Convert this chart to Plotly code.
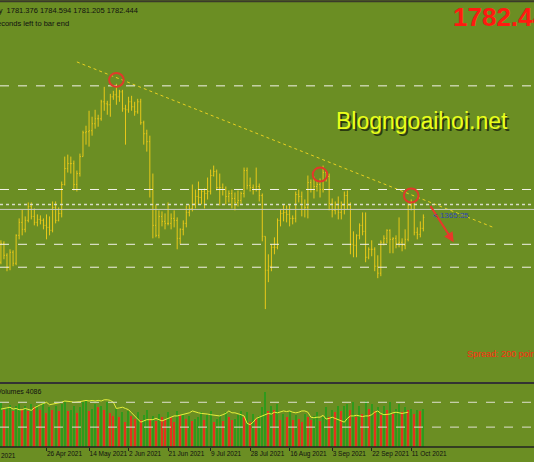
import plotly.graph_objects as go

# --- daily gold bars (8 Apr 2021 .. 20 Oct 2021), index = bar position ---
first_open = 1737
closes = [1756,1744, 1732,1747,1736,1764,1777, 1770,1779,1793,1783,1777,
          1780,1779,1774,1772,1769, 1792,1779,1786,1815,1831, 1836,1836,1815,1826,1843,
          1867,1868,1869,1876,1881, 1881,1898,1896,1895,1903, 1905,1903,1908,1891,1890,
          1898,1893,1888,1898,1877, 1866,1858,1810,1774,1764, 1783,1778,1776,1776,1781,
          1779,1761,1770,1776,1787, 1791,1796,1803,1802,1808, 1806,1808,1824,1828,1812,
          1812,1810,1803,1806,1801, 1797,1799,1806,1829,1814, 1812,1810,1813,1804,1763,
          1729,1733,1752,1752,1779, 1786,1787,1785,1781,1781, 1805,1803,1790,1792,1817,
          1810,1813,1815,1810,1827, 1823,1796,1789,1795,1787, 1794,1804,1794,1755,1754,
          1764,1774,1768,1742,1750, 1750,1733,1726,1757,1761, 1769,1760,1761,1756,1757,
          1754,1760,1794,1797,1767, 1765,1771,1782]
highs = [1759,1758, 1746,1750,1749,1765,1781, 1790,1783,1797,1797,1791,
         1785,1784,1781,1785,1783, 1798,1798,1792,1818,1843, 1845,1843,1839,1829,1846,
         1869,1874,1889,1883,1890, 1885,1900,1913,1899,1906, 1909,1916,1910,1910,1895,
         1903,1904,1898,1901,1901, 1879,1870,1864,1826,1795, 1789,1788,1786,1797,1786,
         1789,1782,1771,1779,1794, 1795,1815,1810,1818,1810, 1811,1822,1830,1834,1830,
         1826,1816,1813,1809,1810, 1807,1809,1808,1832,1832, 1822,1815,1832,1816,1806,
         1763,1745,1755,1762,1781, 1790,1795,1794,1795,1784, 1808,1810,1808,1800,1824,
         1820,1823,1819,1821,1834, 1829,1826,1801,1798,1803, 1798,1808,1809,1797,1768,
         1765,1776,1787,1787,1752, 1759,1752,1744,1759,1764, 1770,1770,1762,1764,1782,
         1761,1770,1796,1800,1798, 1772,1778,1785]
lows = [1735,1740, 1728,1729,1733,1734,1760, 1764,1767,1777,1780,1774,
        1773,1775,1770,1760,1764, 1767,1776,1778,1782,1814, 1827,1826,1809,1808,1823,
        1843,1855,1853,1864,1871, 1873,1879,1889,1885,1883, 1900,1895,1898,1888,1855,
        1887,1889,1884,1886,1875, 1855,1848,1802,1761,1762, 1761,1773,1770,1774,1770,
        1772,1750,1755,1764,1772, 1783,1788,1791,1795,1795, 1791,1800,1805,1823,1809,
        1794,1804,1795,1797,1791, 1789,1793,1795,1802,1810, 1808,1805,1808,1798,1758,
        1690,1717,1728,1745,1750, 1773,1778,1777,1773,1775, 1777,1797,1783,1782,1781,
        1807,1801,1808,1802,1807, 1818,1789,1782,1785,1780, 1780,1785,1790,1745,1742,
        1742,1760,1764,1737,1740, 1743,1728,1721,1723,1754, 1756,1746,1746,1751,1752,
        1748,1750,1758,1789,1764, 1760,1762,1768]
volumes = [72,60, 64,68,58,66,70, 62,66,58,70,64, 68,60,72,55,64, 60,66,58,70,72,
           58,60,66,55,64, 72,75,58,62,70, 64,66,60,72,55, 50,62,48,56,40, 58,50,46,56,44,
           52,60,46,50,42, 54,48,44,56,48, 40,58,52,54,46, 50,42,46,48,56, 44,52,58,40,46,
           50,42,56,48,44, 46,52,58,48,56, 40,54,46,50,64, 88,58,66,60,70, 44,54,48,56,44,
           52,46,40,54,48, 44,50,56,42,48, 64,48,60,56,66, 58,66,70,60,72, 48,66,54,74,62,
           70,58,64,52,66, 60,72,54,62,70, 56,64,60,62,54, 60,58,62]
vol_line = [61,62, 63,64,61,62,60, 60,62,61,59,63, 66,68,70,72,68, 69,70,70,72,74,
            74,73,72,72,73, 74,75,74,75,74, 75,74,76,76,75, 72,62,63,64,62, 60,55,50,46,40,
            42,44,44,44,46, 44,42,44,46,48, 50,50,51,52,54, 55,58,56,55,54, 54,53,52,51,51,
            50,52,54,58,55, 55,54,52,50,38, 36,40,46,48,50, 52,54,53,56,55, 57,58,57,58,56,
            55,56,58,58,56, 48,47,48,48,51, 45,46,48,46,44, 41,40,46,50,50, 51,50,49,50,50,
            52,56,58,54,52, 52,53,55,56,55, 54,55,56]

date_idx = [15, 29, 42, 55, 69, 82, 95, 109, 122, 135]
date_txt = ["26 Apr 2021", "14 May 2021", "2 Jun 2021", "21 Jun 2021", "9 Jul 2021",
            "28 Jul 2021", "16 Aug 2021", "3 Sep 2021", "22 Sep 2021", "11 Oct 2021"]

levels_dash = [1914, 1810, 1755, 1732]
level_dot = 1795
level_solid = 1790
trend_x = [25, 162]
trend_y = [1938, 1772]
arrow_x = [141, 149]
arrow_y = [1795, 1757]
circled = [38, 105, 135]

opens = [first_open] + closes[:-1]
idx = list(range(len(closes)))
vol_col = ["#2f9a1b"] + ["#2f9a1b" if volumes[i] >= volumes[i - 1] else "#e2341c"
                         for i in range(1, len(volumes))]

BG = "#6b8e23"
YEL = "#e8c81a"

fig = go.Figure()
fig.add_trace(go.Ohlc(x=idx, open=opens, high=highs, low=lows, close=closes,
                      increasing_line_color=YEL, decreasing_line_color=YEL,
                      line_width=1, tickwidth=0.3, xaxis="x", yaxis="y"))
fig.add_trace(go.Scatter(x=trend_x, y=trend_y, mode="lines",
                         line=dict(color="#e8d020", width=1, dash="dot")))
fig.add_trace(go.Bar(x=idx, y=volumes, marker_color=vol_col, marker_line_width=0,
                     width=0.4, xaxis="x", yaxis="y2"))
fig.add_trace(go.Scatter(x=idx, y=vol_line, mode="lines", xaxis="x", yaxis="y2",
                         line=dict(color="#e6f03a", width=1)))

for lv in levels_dash:
    fig.add_hline(y=lv, line=dict(color="#f2f2e8", width=1, dash="dash"), yref="y")
fig.add_hline(y=level_dot, line=dict(color="#d8dcc8", width=1.5, dash="dot"), yref="y")
fig.add_hline(y=level_solid, line=dict(color="#c8ccc0", width=1), yref="y")
for lv in [72, 32]:
    fig.add_shape(type="line", xref="paper", x0=0, x1=1, yref="y2", y0=lv, y1=lv,
                  line=dict(color="#e0e0d0", width=1, dash="dash"))

for i in circled:
    fig.add_shape(type="circle", xref="x", yref="y", x0=i - 2.4, x1=i + 2.4,
                  y0=highs[i] - 3, y1=highs[i] + 11, line=dict(color="#e03a2a", width=2))

fig.add_annotation(x=arrow_x[1], y=arrow_y[1], ax=arrow_x[0], ay=arrow_y[0],
                   xref="x", yref="y", axref="x", ayref="y", showarrow=True,
                   arrowhead=2, arrowsize=1, arrowwidth=2, arrowcolor="#e8382a", text="")

# panel separators / borders
fig.add_shape(type="line", xref="paper", yref="paper", x0=0, x1=1, y0=0.997, y1=0.997,
              line=dict(color="#3a3a2a", width=2))
fig.add_shape(type="line", xref="paper", yref="paper", x0=0, x1=1, y0=0.143, y1=0.143,
              line=dict(color="#333", width=2))
fig.add_shape(type="line", xref="paper", yref="paper", x0=0, x1=1, y0=0.0, y1=0.0,
              line=dict(color="#222", width=1.5))

txt = [
    dict(x=-0.01, y=0.99, text="ly  1781.376 1784.594 1781.205 1782.444"),
    dict(x=-0.01, y=0.963, text="econds left to bar end"),
]
for t in txt:
    fig.add_annotation(xref="paper", yref="paper", x=t["x"], y=t["y"], text=t["text"],
                       showarrow=False, xanchor="left", yanchor="top",
                       font=dict(size=7.5, color="#111", family="Liberation Sans"))
fig.add_annotation(xref="paper", yref="paper", x=1.03, y=1.0, text="<b>1782.44</b>",
                   showarrow=False, xanchor="right", yanchor="top",
                   font=dict(size=26, color="#ff1a10", family="Liberation Sans"))
fig.add_annotation(xref="paper", yref="paper", x=0.629, y=0.725, text="Blogngoaihoi.net",
                   showarrow=False, xanchor="left", yanchor="middle",
                   font=dict(size=23, color="#2a3a10", family="Liberation Sans"))
fig.add_annotation(xref="paper", yref="paper", x=0.625, y=0.73, text="Blogngoaihoi.net",
                   showarrow=False, xanchor="left", yanchor="middle",
                   font=dict(size=23, color="#eaff1a", family="Liberation Sans"))
fig.add_annotation(xref="paper", yref="paper", x=1.02, y=0.207, text="Spread: 200 points",
                   showarrow=False, xanchor="right", yanchor="middle",
                   font=dict(size=9, color="#ff2a10", family="Liberation Sans"))
fig.add_annotation(xref="x", yref="y", x=141.5, y=1784, text="< 1365:35",
                   showarrow=False, xanchor="left", yanchor="middle",
                   font=dict(size=8, color="#3048b8", family="Liberation Sans"))
fig.add_annotation(xref="paper", yref="paper", x=-0.01, y=0.137, text="Volumes 4086",
                   showarrow=False, xanchor="left", yanchor="top",
                   font=dict(size=7, color="#111", family="Liberation Sans"))
fig.add_annotation(xref="paper", yref="paper", x=0.034, y=-0.006, text="Apr 2021",
                   showarrow=False, xanchor="right", yanchor="top",
                   font=dict(size=6.5, color="#111", family="Liberation Sans"))

fig.update_layout(
    width=534, height=462, margin=dict(l=0, r=0, t=0, b=15, autoexpand=False),
    paper_bgcolor=BG, plot_bgcolor=BG, showlegend=False, bargap=0,
    xaxis=dict(range=[-0.3, 175.4], showgrid=False, zeroline=False,
               tickvals=date_idx, ticktext=date_txt, ticks="outside", ticklen=3,
               tickangle=0, tickcolor="#222", ticklabelposition="outside right",
               tickfont=dict(size=6.5, color="#111", family="Liberation Sans"),
               rangeslider=dict(visible=False), anchor="y2"),
    yaxis=dict(domain=[0.148, 0.993], range=[1618, 1997], visible=False),
    yaxis2=dict(domain=[0, 0.139], range=[0, 100], visible=False),
)

fig.write_html("out.html", config={"displayModeBar": False},
               post_script="document.body.style.margin='0';document.body.style.overflow='hidden';")
